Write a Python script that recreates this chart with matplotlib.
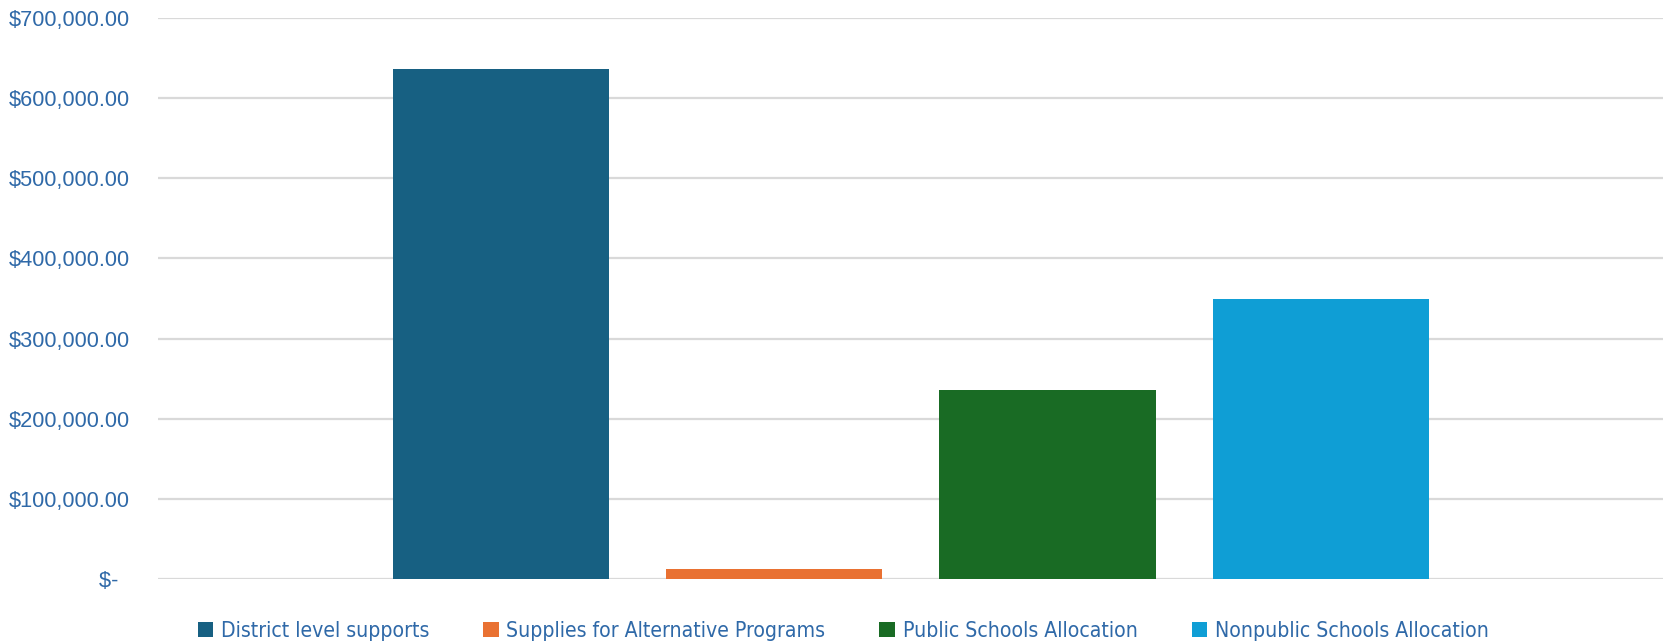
import matplotlib.pyplot as plt
from matplotlib.ticker import FuncFormatter
from matplotlib import font_manager

# budget lines
categories = ['District level supports', 'Supplies for Alternative Programs',
              'Public Schools Allocation', 'Nonpublic Schools Allocation']
amounts = [636000, 12500, 235800, 349400]
colors = ['#176082', '#E97132', '#196B24', '#0F9ED5']

text_col = '#2F69A8'

# look for a narrow face for the legend, otherwise shrink a regular one
narrow = None
for f in font_manager.fontManager.ttflist:
    n = f.name.lower()
    if ('narrow' in n or 'condensed' in n or 'condensed' in str(f.stretch)) and f.weight in (400, 'normal', 'regular') and f.style == 'normal':
        narrow = f.fname
        break
if narrow:
    leg_prop = font_manager.FontProperties(fname=narrow, size=15.2)
else:
    leg_prop = font_manager.FontProperties(family='Liberation Sans', size=13.2)

fig = plt.figure(figsize=(16.63, 6.41), dpi=100)
ax = fig.add_axes([158/1663, 1-579/641, 1-158/1663, (579-18)/641])

for i, (v, c, lab) in enumerate(zip(amounts, colors, categories)):
    ax.bar(i, v, width=0.791, color=c, label=lab, zorder=3)

ax.set_xlim(-1.256, 4.253)
ax.set_ylim(0, 700000)
ax.set_yticks(range(0, 700001, 100000))

def money(v, pos):
    if v == 0:
        return '$-  '
    return '${:,.2f}'.format(v)

ax.yaxis.set_major_formatter(FuncFormatter(money))
ax.tick_params(axis='y', length=0, pad=20, labelsize=15.7, labelcolor=text_col)
for t in ax.get_yticklabels():
    t.set_fontfamily('Liberation Sans')
ax.set_xticks([])
ax.grid(axis='y', color='#D9D9D9', linewidth=1.6, zorder=0)
for s in ax.spines.values():
    s.set_visible(False)

leg = fig.legend(loc='center', bbox_to_anchor=(0.507, 1-631/641), ncol=4, frameon=False,
                 handlelength=0.75, handleheight=0.75, handletextpad=0.35,
                 columnspacing=2.56, prop=leg_prop)
for t in leg.get_texts():
    t.set_color(text_col)

plt.savefig('out.png', dpi=100)
